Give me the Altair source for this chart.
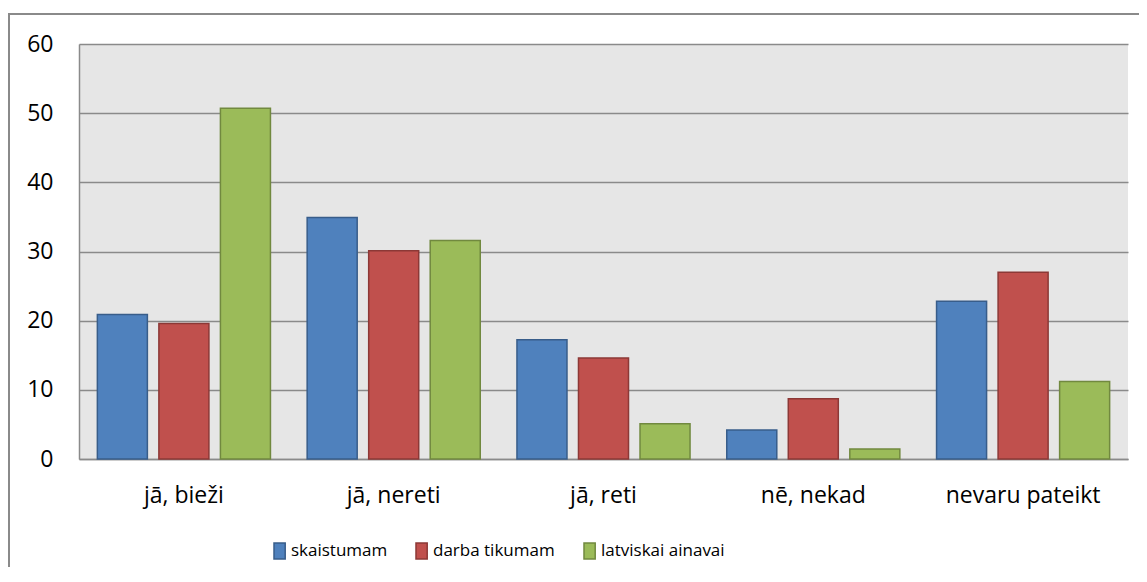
import altair as alt
import pandas as pd

categories = ["jā, bieži", "jā, nereti", "jā, reti", "nē, nekad", "nevaru pateikt"]
series = ["skaistumam", "darba tikumam", "latviskai ainavai"]
skaistumam = [20.9, 34.9, 17.25, 4.2, 22.8]
darba_tikumam = [19.6, 30.1, 14.6, 8.7, 27.0]
latviskai_ainavai = [50.7, 31.6, 5.1, 1.45, 11.2]
y_ticks = [0, 10, 20, 30, 40, 50, 60]

fills = ["#4F81BD", "#C0504D", "#9BBB59"]
strokes = ["#385D8A", "#8C3836", "#71893F"]

rows = []
for s, vals in zip(series, [skaistumam, darba_tikumam, latviskai_ainavai]):
    for c, v in zip(categories, vals):
        rows.append({"category": c, "series": s, "value": v})
df = pd.DataFrame(rows)

FONT = "Open Sans"
GRAY = "#8a8a8a"

legend_cfg = dict(title=None, orient="none", direction="horizontal",
                  legendX=191.6, legendY=498,
                  labelFont=FONT, labelFontSize=17, labelColor="#000000",
                  symbolType="M-0.7,-1H0.7V1H-0.7Z", symbolSize=256,
                  symbolStrokeWidth=1.5, labelOffset=2.4,
                  columnPadding=25, padding=0)

bars = alt.Chart(df).mark_bar(strokeWidth=1.5).encode(
    x=alt.X("category:N", sort=categories,
            scale=alt.Scale(paddingInner=0.175, paddingOuter=0.0875),
            axis=alt.Axis(title=None, labelAngle=0, labelFont=FONT, labelFontSize=23,
                          labelColor="#000000", ticks=False, tickSize=0, labelPadding=25,
                          domainColor=GRAY, domainWidth=1.5, grid=False)),
    xOffset=alt.XOffset("series:N", sort=series,
                        scale=alt.Scale(paddingInner=0.187, paddingOuter=0)),
    y=alt.Y("value:Q", scale=alt.Scale(domain=[0, 60], nice=False),
            axis=alt.Axis(title=None, values=y_ticks, labelFont=FONT, labelFontSize=23,
                          labelColor="#000000", ticks=False, tickSize=0, labelPadding=26,
                          domainColor=GRAY, domainWidth=1.5, gridColor=GRAY, gridWidth=1.5)),
    color=alt.Color("series:N", sort=series,
                    scale=alt.Scale(domain=series, range=fills),
                    legend=alt.Legend(**legend_cfg)),
    stroke=alt.Stroke("series:N", sort=series,
                      scale=alt.Scale(domain=series, range=strokes),
                      legend=alt.Legend(**legend_cfg)),
)

border_top = alt.Chart(df).mark_rule(stroke=GRAY, strokeWidth=1.5).encode(
    x=alt.value(-70), x2=alt.value(1060), y=alt.value(-30)
)
border_left = alt.Chart(df).mark_rect(fill=GRAY, stroke=None).encode(
    x=alt.value(-70.75), x2=alt.value(-69.25), y=alt.value(-30.75), y2=alt.value(523)
)

chart = alt.layer(border_top, border_left, bars).properties(
    width=1049, height=415,
    autosize=alt.AutoSizeParams(type="none"),
    padding={"left": 71, "top": 36, "right": 11, "bottom": 108},
    background="white",
).configure_view(fill="#E6E6E6", stroke=None)

chart.save("out.html", embed_options={"renderer": "svg", "actions": False})
